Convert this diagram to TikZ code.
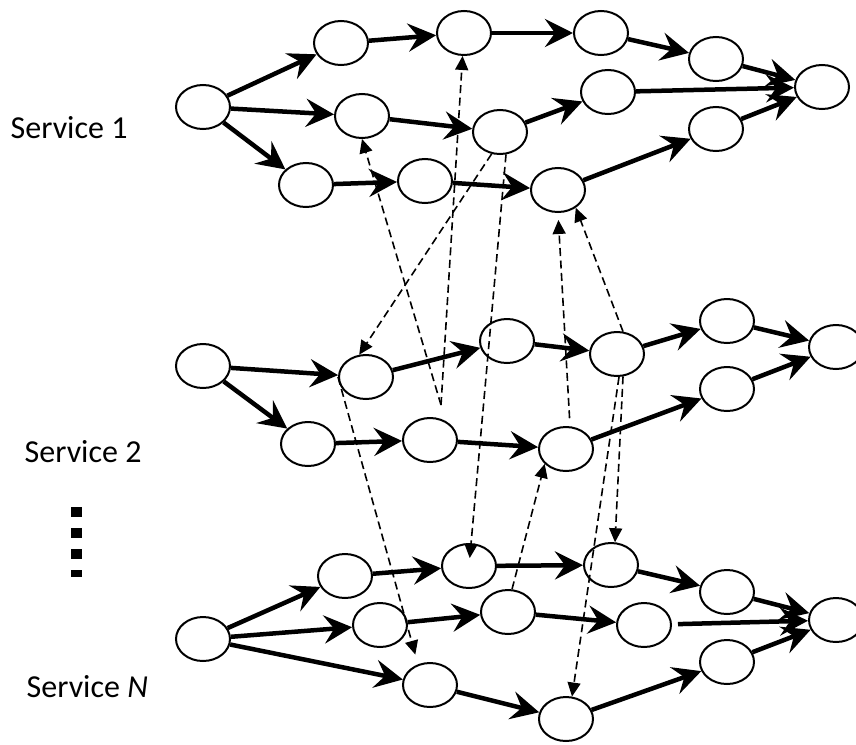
\documentclass[tikz,border=0pt]{standalone}
\usepackage{fontspec}
\setmainfont{Carlito}
\usetikzlibrary{arrows.meta,calc,shapes.geometric}
\begin{document}
\begin{tikzpicture}[x=1pt,y=-1pt,
  nd/.style={draw=black,ellipse,line width=2pt,minimum width=54pt,minimum height=44pt,inner sep=0pt},
  sarrow/.style={line width=4.5pt,-{Stealth[length=28pt,width=28pt,inset=10pt]}},
  darrow/.style={line width=1.6pt,dash pattern=on 8pt off 4.5pt,-{Triangle[length=14pt,width=13pt]}},
  lbl/.style={anchor=base west,inner sep=0pt,font=\fontsize{32}{38}\selectfont}
]
\fill[white] (0,0) rectangle (856,744);
\useasboundingbox (0,0) rectangle (856,744);

% labels
\node[lbl] (s1) at (10.5,138) {Service 1};
\node[lbl] (s2) at (24.5,462) {Service 2};
\node[lbl] (sn) at (26.5,697) {Service \textit{N}};
\draw[line width=11pt,dash pattern=on 10pt off 11pt] (76.5,507) -- (76.5,577);

% Service 1
\node[nd] (A1) at (203,107) {};
\node[nd] (A2) at (341,43) {};
\node[nd] (A3) at (464,33) {};
\node[nd] (A4) at (601,33) {};
\node[nd] (A5) at (716,59) {};
\node[nd] (A6) at (822,87) {};
\node[nd] (A7) at (608,92) {};
\node[nd] (A8) at (716,129) {};
\node[nd] (A9) at (362,116) {};
\node[nd] (A10) at (500,132) {};
\node[nd] (A11) at (306,185) {};
\node[nd] (A12) at (425,181) {};
\node[nd] (A13) at (558,190) {};

% Service 2
\node[nd] (B1) at (203,366) {};
\node[nd] (B2) at (366,377) {};
\node[nd] (B3) at (507,341) {};
\node[nd] (B4) at (308,444) {};
\node[nd] (B5) at (430,440) {};
\node[nd] (B6) at (566,449) {};
\node[nd] (B7) at (617,354) {};
\node[nd] (B8) at (727,321) {};
\node[nd] (B9) at (836,347) {};
\node[nd] (B10) at (727,389) {};

% Service N
\node[nd] (C1) at (203,639) {};
\node[nd] (C2) at (345,576) {};
\node[nd] (C3) at (469,566) {};
\node[nd] (C4) at (380,625) {};
\node[nd] (C5) at (508,612) {};
\node[nd] (C6) at (430,685) {};
\node[nd] (C7) at (611,565) {};
\node[nd] (C8) at (644,625) {};
\node[nd] (C9) at (727,592) {};
\node[nd] (C10) at (836,620) {};
\node[nd] (C11) at (727,662) {};
\node[nd] (C12) at (566,719) {};

% solid edges, service 1
\draw[sarrow] (A1) -- (A2);
\draw[sarrow] (A1) -- (A9);
\draw[sarrow] (A1) -- (A11);
\draw[sarrow] (A2) -- (A3);
\draw[sarrow] (A3) -- (A4);
\draw[sarrow] (A4) -- (A5);
\draw[sarrow] (A5) -- (A6);
\draw[sarrow] (A9) -- (A10);
\draw[sarrow] (A10) -- (A7);
\draw[sarrow] (A7) -- (A6);
\draw[sarrow] (A11) -- (A12);
\draw[sarrow] (A12) -- (A13);
\draw[sarrow] (A13) -- (A8);
\draw[sarrow] (A8) -- (A6);

% solid edges, service 2
\draw[sarrow] (B1) -- (B2);
\draw[sarrow] (B1) -- (B4);
\draw[sarrow] (B2) -- (B3);
\draw[sarrow] (B3) -- (B7);
\draw[sarrow] (B7) -- (B8);
\draw[sarrow] (B8) -- (B9);
\draw[sarrow] (B4) -- (B5);
\draw[sarrow] (B5) -- (B6);
\draw[sarrow] (B6) -- (B10);
\draw[sarrow] (B10) -- (B9);

% solid edges, service N
\draw[sarrow] (C1) -- (C2);
\draw[sarrow] (C1) -- (C4);
\draw[sarrow] (C1) -- (C6);
\draw[sarrow] (C2) -- (C3);
\draw[sarrow] (C3) -- (C7);
\draw[sarrow] (C7) -- (C9);
\draw[sarrow] (C9) -- (C10);
\draw[sarrow] (C4) -- (C5);
\draw[sarrow] (C5) -- (C8);
\draw[sarrow,shorten <=6pt] (C8) -- (C10);
\draw[sarrow] (C6) -- (C12);
\draw[sarrow] (C12) -- (C11);
\draw[sarrow] (C11) -- (C10);

% dashed cross-service arrows
\coordinate (P1) at (441,405);
\draw[darrow] (P1) -- (A3);
\draw[darrow] (P1) -- (A9.south);
\draw[darrow] (A10.249) -- (B2.107);
\draw[darrow,shorten >=8pt] (A10.285) -- (C3.center);
\draw[darrow,shorten >=10pt] (B2.west) -- (C6.120);
\draw[darrow,shorten <=8pt,shorten >=7pt] (B6.80) -- (A13.south);
\draw[darrow] (B7.75) -- (A13.315);
\draw[darrow] (B7.285) -- (C7.80);
\draw[darrow] (B7.275) -- (C12.75);
\draw[darrow] (C5.80) -- (B6.215);
\end{tikzpicture}
\end{document}
